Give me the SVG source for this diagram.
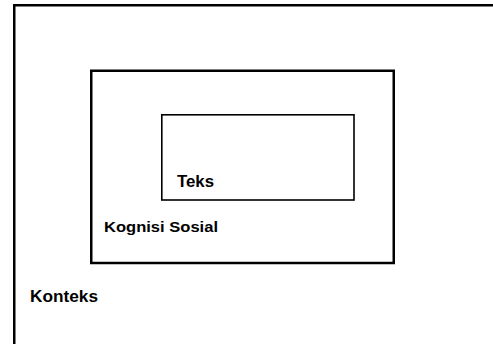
<svg xmlns="http://www.w3.org/2000/svg" width="493" height="344" viewBox="0 0 493 344">
<style>
.box{fill:none;stroke:#000;}
.lbl{font-family:"Liberation Sans",Arial,sans-serif;font-weight:bold;fill:#000;}
</style>
<rect width="493" height="344" fill="#fff"/>
<g id="konteks">
<rect class="box" x="14.25" y="5.25" width="520" height="400" stroke-width="2.5"/>
<text class="lbl" x="30" y="302" font-size="16" textLength="68" lengthAdjust="spacingAndGlyphs">Konteks</text>
</g>
<g id="kognisi-sosial">
<rect class="box" x="91.25" y="70.75" width="302.5" height="192.25" stroke-width="2.5"/>
<text class="lbl" x="104" y="232" font-size="15" textLength="114" lengthAdjust="spacingAndGlyphs">Kognisi Sosial</text>
</g>
<g id="teks">
<rect class="box" x="161.8" y="114.8" width="192.2" height="85.2" stroke-width="1.6"/>
<text class="lbl" x="177" y="187" font-size="16" textLength="37" lengthAdjust="spacingAndGlyphs">Teks</text>
</g>
<g id="connectors"/>
</svg>
